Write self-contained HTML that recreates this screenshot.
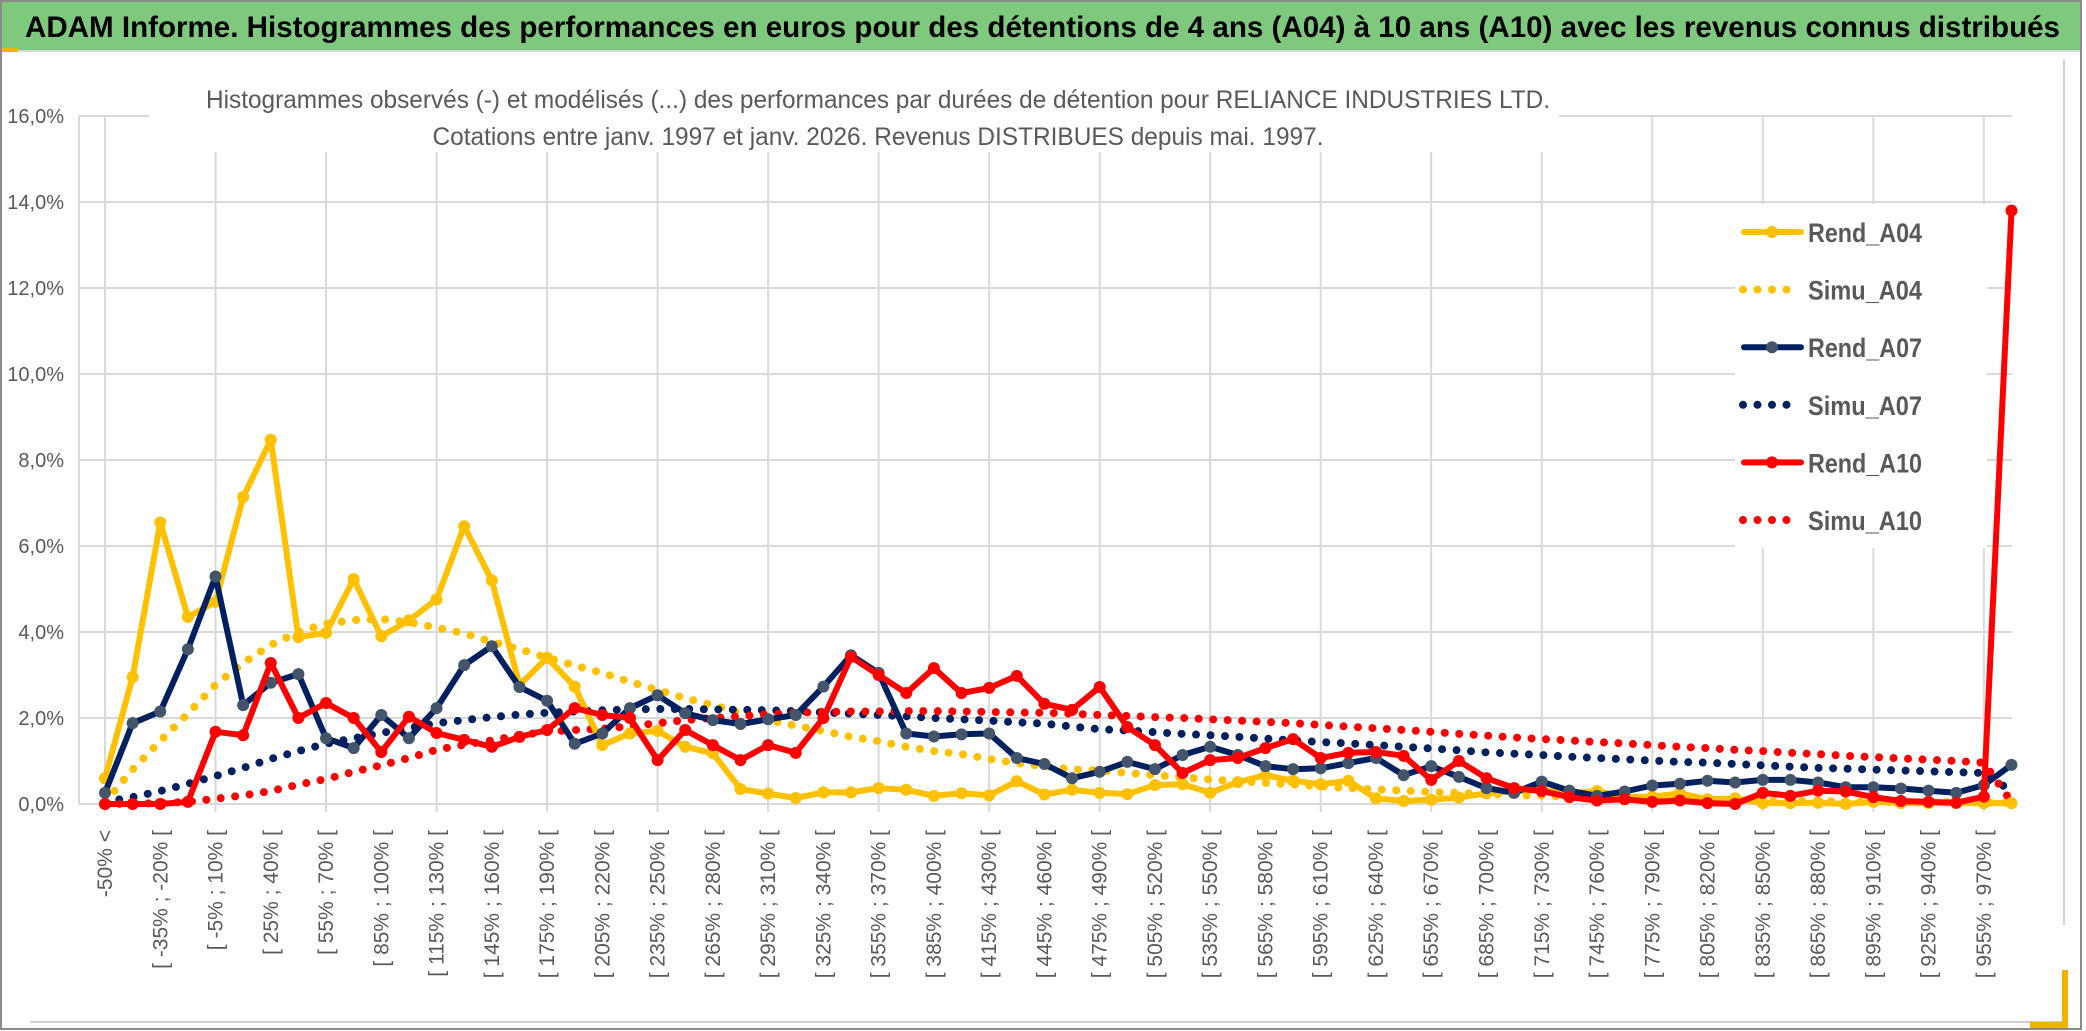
<!DOCTYPE html>
<html><head><meta charset="utf-8"><style>
html,body{margin:0;padding:0;background:#fff;}
svg{display:block;font-family:"Liberation Sans",sans-serif;}
</style></head><body>
<svg id="chart" width="2086" height="1031" viewBox="0 0 2086 1031">
<rect x="0" y="0" width="2086" height="1031" fill="#fff"/>
<rect x="1" y="1" width="2080" height="1028" fill="none" stroke="#8a8a8a" stroke-width="2"/>
<rect x="2" y="2" width="2078" height="48" fill="#7ec97e"/>
<rect x="2" y="48" width="16" height="4" fill="#f0b400"/>
<line x1="18" y1="51" x2="2080" y2="51" stroke="#d9d9d9" stroke-width="2"/>
<text x="25" y="37" font-size="30" font-weight="bold" fill="#000" textLength="2035" lengthAdjust="spacingAndGlyphs">ADAM Informe. Histogrammes des performances en euros pour des détentions de 4 ans (A04) à 10 ans (A10) avec les revenus connus distribués</text>
<line x1="2064" y1="60" x2="2064" y2="925" stroke="#d0d0d0" stroke-width="2"/>
<line x1="30" y1="1022" x2="2064" y2="1022" stroke="#d0d0d0" stroke-width="2"/>
<rect x="2062" y="970" width="6" height="58" fill="#f0b400"/>
<rect x="2030" y="1022" width="38" height="6" fill="#f0b400"/>
<g id="grid"></g>
<g id="yticks"></g>
<g id="xticks"></g>
<rect x="149" y="78" width="1410" height="74" fill="#fff"/>
<text x="878" y="108" font-size="25" fill="#595959" text-anchor="middle" textLength="1344" lengthAdjust="spacingAndGlyphs">Histogrammes observés (-) et modélisés (...) des performances par durées de détention pour RELIANCE INDUSTRIES LTD.</text>
<text x="878" y="145" font-size="25" fill="#595959" text-anchor="middle" textLength="891" lengthAdjust="spacingAndGlyphs">Cotations entre janv. 1997 et janv. 2026. Revenus DISTRIBUES depuis mai. 1997.</text>
<g id="series"></g>
<g id="legend"></g>
</svg>
<script>
const categories = ["-50% <"];
for (let a = -50; a < 970; a += 15) categories.push("[ " + a + "% ; " + (a + 15) + "% [");
categories.push("970% <");
const yTicks = [0, 2, 4, 6, 8, 10, 12, 14, 16];
const yTickLabels = ["0,0%","2,0%","4,0%","6,0%","8,0%","10,0%","12,0%","14,0%","16,0%"];
const rendA04 = [0.6,2.95,6.55,4.35,4.7,7.14,8.47,3.88,3.98,5.23,3.9,4.27,4.76,6.46,5.2,2.77,3.4,2.73,1.37,1.64,1.7,1.33,1.18,0.35,0.24,0.14,0.27,0.27,0.37,0.33,0.19,0.25,0.2,0.53,0.22,0.33,0.26,0.23,0.44,0.46,0.26,0.51,0.67,0.54,0.46,0.54,0.13,0.07,0.1,0.15,0.25,0.3,0.33,0.25,0.3,0.17,0.17,0.25,0.11,0.13,0.02,0.02,0.03,0.0,0.05,0.02,0.02,0.02,0.02,0.02];
const simuA04 = [0.05,0.8,1.47,2.1,2.77,3.28,3.7,4.0,4.19,4.28,4.3,4.23,4.1,3.97,3.77,3.6,3.4,3.22,3.05,2.84,2.65,2.46,2.3,2.12,1.95,1.82,1.7,1.56,1.46,1.33,1.23,1.16,1.05,0.95,0.88,0.81,0.78,0.72,0.67,0.62,0.57,0.53,0.49,0.45,0.41,0.37,0.34,0.31,0.28,0.26,0.23,0.21,0.19,0.17,0.15,0.14,0.12,0.11,0.1,0.09,0.08,0.07,0.07,0.06,0.05,0.05,0.04,0.04,0.03,0.03];
const rendA07 = [0.26,1.88,2.15,3.6,5.29,2.3,2.82,3.02,1.53,1.3,2.07,1.53,2.23,3.23,3.67,2.72,2.4,1.4,1.64,2.23,2.53,2.11,1.95,1.86,1.97,2.07,2.73,3.46,3.05,1.64,1.57,1.62,1.64,1.07,0.93,0.6,0.75,0.98,0.81,1.14,1.33,1.14,0.88,0.81,0.83,0.95,1.07,0.67,0.88,0.63,0.37,0.26,0.52,0.31,0.19,0.29,0.43,0.47,0.54,0.5,0.56,0.56,0.5,0.39,0.39,0.36,0.31,0.26,0.44,0.91];
const simuA07 = [0.05,0.16,0.3,0.47,0.65,0.84,1.05,1.23,1.4,1.53,1.65,1.77,1.88,1.95,2.02,2.08,2.12,2.15,2.18,2.2,2.21,2.21,2.2,2.19,2.18,2.16,2.13,2.1,2.07,2.04,2.0,1.97,1.94,1.9,1.87,1.8,1.74,1.71,1.67,1.63,1.6,1.56,1.52,1.48,1.44,1.41,1.37,1.33,1.29,1.25,1.2,1.17,1.14,1.1,1.07,1.04,1.01,0.98,0.96,0.93,0.9,0.87,0.84,0.82,0.8,0.78,0.76,0.74,0.72,0.3];
const rendA10 = [0,0,0,0.05,1.68,1.6,3.28,2.0,2.35,2.0,1.21,2.03,1.65,1.49,1.33,1.56,1.72,2.23,2.07,2.0,1.02,1.72,1.37,1.02,1.37,1.19,2.0,3.42,3.0,2.58,3.16,2.58,2.7,2.98,2.33,2.19,2.72,1.79,1.37,0.72,1.02,1.07,1.3,1.51,1.07,1.19,1.21,1.12,0.56,1.0,0.6,0.37,0.3,0.16,0.08,0.11,0.05,0.08,0.02,0.0,0.26,0.19,0.31,0.29,0.16,0.07,0.05,0.03,0.17,13.8];
const simuA10 = [0,0.01,0.02,0.05,0.12,0.2,0.3,0.45,0.58,0.75,0.9,1.07,1.26,1.38,1.48,1.6,1.68,1.72,1.75,1.81,1.88,1.95,2.0,2.04,2.09,2.12,2.14,2.15,2.15,2.16,2.16,2.15,2.14,2.13,2.12,2.1,2.07,2.05,2.02,2.0,1.97,1.94,1.91,1.88,1.84,1.8,1.76,1.72,1.68,1.63,1.59,1.55,1.51,1.48,1.44,1.41,1.37,1.33,1.3,1.26,1.23,1.19,1.16,1.12,1.09,1.06,1.03,1.0,0.96,0.05];
const seriesNames = ["Rend_A04","Simu_A04","Rend_A07","Simu_A07","Rend_A10","Simu_A10"];

const NS = "http://www.w3.org/2000/svg";
const X0 = 105, DX = 27.63, Y0 = 804, PY = 43;
function xPos(i){ return X0 + DX * i; }
function yPos(v){ return Y0 - v * PY; }
function mk(tag, attrs, parent){ const e = document.createElementNS(NS, tag); for (const k in attrs) e.setAttribute(k, attrs[k]); parent.appendChild(e); return e; }

const grid = document.getElementById('grid');
yTicks.forEach((t, k) => {
  const l = mk('line', {x1: 79, x2: 2012, y1: yPos(t), y2: yPos(t), stroke: '#d9d9d9', 'stroke-width': 2}, grid);
  
  
  const tx = mk('text', {x: 64, y: yPos(t) + 7, 'font-size': 20, fill: '#595959', 'text-anchor': 'end'}, document.getElementById('yticks'));
  tx.textContent = yTickLabels[k];
  
  
});
for (let i = 0; i < categories.length; i += 4) {
  const l = mk('line', {x1: xPos(i), x2: xPos(i), y1: yPos(16), y2: Y0 + 8, stroke: '#d9d9d9', 'stroke-width': 2}, grid);
  
  
}
mk('line', {x1: 79, x2: 79, y1: yPos(16), y2: Y0, stroke: '#d9d9d9', 'stroke-width': 2}, grid);
const xt = document.getElementById('xticks');
categories.forEach((c, i) => {
  if (i % 2 !== 0 || i > 68) return;
  const x = xPos(i) + 7, y = 830;
  const t = mk('text', {x: x, y: y, 'font-size': 21, fill: '#595959', 'text-anchor': 'end', transform: 'rotate(-90 ' + x + ' ' + y + ')'}, xt);
  t.textContent = c;
  
  
});

const ser = document.getElementById('series');
function pts(arr){ return arr.map((v, i) => xPos(i).toFixed(1) + ',' + yPos(v).toFixed(1)).join(' '); }
function dotted(arr, color, name){
  const p = mk('polyline', {points: pts(arr), fill: 'none', stroke: color, 'stroke-width': 8, 'stroke-linecap': 'round', 'stroke-dasharray': '0 14.5'}, ser);
  
  
}
function solid(arr, color, mcolor, name){
  const g = mk('g', {}, ser);
  
  
  mk('polyline', {points: pts(arr), fill: 'none', stroke: color, 'stroke-width': 6, 'stroke-linejoin': 'round'}, g);
  arr.forEach((v, i) => {
    const c = mk('circle', {cx: xPos(i), cy: yPos(v), r: 6, fill: mcolor}, g);
    
    
  });
}
dotted(simuA04, '#FFC000', 'simu-a04-line');
dotted(simuA07, '#002060', 'simu-a07-line');
dotted(simuA10, '#FF0000', 'simu-a10-line');
solid(rendA04, '#FFC000', '#FFC000', 'rend-a04-line');
solid(rendA07, '#002060', '#44546A', 'rend-a07-line');
solid(rendA10, '#FF0000', '#FF0000', 'rend-a10-line');

const lg = document.getElementById('legend');
const bg = mk('rect', {x: 1735, y: 204, width: 252, height: 344, fill: '#fff'}, lg);


const lcol = ['#FFC000','#FFC000','#002060','#002060','#FF0000','#FF0000'];
const lmk = ['#FFC000','#FFC000','#44546A','#002060','#FF0000','#FF0000'];
seriesNames.forEach((n, k) => {
  const y = 232 + k * 57.6;
  const g = mk('g', {}, lg);
  
  
  if (k % 2 === 0) {
    mk('line', {x1: 1744, x2: 1801, y1: y, y2: y, stroke: lcol[k], 'stroke-width': 6, 'stroke-linecap': 'round'}, g);
    mk('circle', {cx: 1772, cy: y, r: 6, fill: lmk[k]}, g);
  } else {
    mk('line', {x1: 1743, x2: 1800, y1: y, y2: y, stroke: lcol[k], 'stroke-width': 8, 'stroke-linecap': 'round', 'stroke-dasharray': '0 14.5'}, g);
  }
  const t = mk('text', {x: 1808, y: y + 10, 'font-size': 27, fill: '#595959', 'font-weight': 'bold', textLength: 114, lengthAdjust: 'spacingAndGlyphs'}, g);
  t.textContent = n;
});
</script>
</body></html>
